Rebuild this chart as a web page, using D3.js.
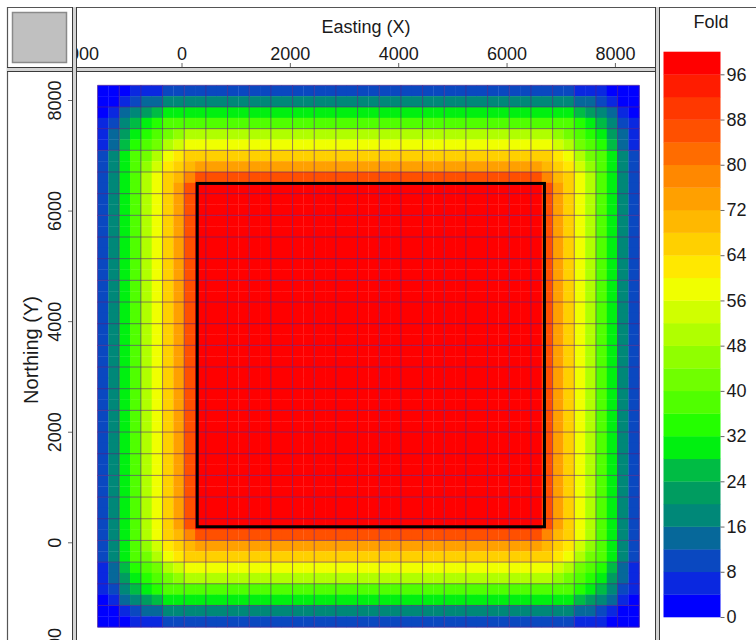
<!DOCTYPE html>
<html>
<head>
<meta charset="utf-8">
<script src="https://cdn.jsdelivr.net/npm/d3@7"></script>
<style>
  html, body { margin: 0; padding: 0; background: #ffffff; }
  svg text { font-family: "Liberation Sans", Arial, sans-serif; fill: #1a1a1a; }
</style>
</head>
<body>
<svg id="chart" width="756" height="640"></svg>
<script>
// Fold coverage per bin, north row first. Each character is a fold class:
// 0-9 then a-o  ->  class k covers fold 4k .. 4k+4  (o = 96-100)
const foldRows = [
  "000111222" + "22222222222222222222222222222222" + "222111000",
  "001233444" + "44444444444444444444444444444444" + "444332100",
  "013456777" + "77777777777777777777777777777777" + "777654310",
  "124678999" + "99999999999999999999999999999999" + "999876421",
  "135789abc" + "cccccccccccccccccccccccccccccccc" + "cba987531",
  "13689acde" + "eeeeeeeeeeeeeeeeeeeeeeeeeeeeeeee" + "edca98631",
  "2479acefg" + "gggggggggggggggggggggggggggggggg" + "gfeca9742",
  "2479bdfgh" + "iiiiiiiiiiiiiiiiiiiiiiiiiiiiiiii" + "hgfdb9742",
  "2479ceghj" + "llllllllllllllllllllllllllllllll" + "jhgec9742",
  "2479cegil" + "oooooooooooooooooooooooooooooooo" + "ligec9742",
  "2479cegil" + "oooooooooooooooooooooooooooooooo" + "ligec9742",
  "2479cegil" + "oooooooooooooooooooooooooooooooo" + "ligec9742",
  "2479cegil" + "oooooooooooooooooooooooooooooooo" + "ligec9742",
  "2479cegil" + "oooooooooooooooooooooooooooooooo" + "ligec9742",
  "2479cegil" + "oooooooooooooooooooooooooooooooo" + "ligec9742",
  "2479cegil" + "oooooooooooooooooooooooooooooooo" + "ligec9742",
  "2479cegil" + "oooooooooooooooooooooooooooooooo" + "ligec9742",
  "2479cegil" + "oooooooooooooooooooooooooooooooo" + "ligec9742",
  "2479cegil" + "oooooooooooooooooooooooooooooooo" + "ligec9742",
  "2479cegil" + "oooooooooooooooooooooooooooooooo" + "ligec9742",
  "2479cegil" + "oooooooooooooooooooooooooooooooo" + "ligec9742",
  "2479cegil" + "oooooooooooooooooooooooooooooooo" + "ligec9742",
  "2479cegil" + "oooooooooooooooooooooooooooooooo" + "ligec9742",
  "2479cegil" + "oooooooooooooooooooooooooooooooo" + "ligec9742",
  "2479cegil" + "oooooooooooooooooooooooooooooooo" + "ligec9742",
  "2479cegil" + "oooooooooooooooooooooooooooooooo" + "ligec9742",
  "2479cegil" + "oooooooooooooooooooooooooooooooo" + "ligec9742",
  "2479cegil" + "oooooooooooooooooooooooooooooooo" + "ligec9742",
  "2479cegil" + "oooooooooooooooooooooooooooooooo" + "ligec9742",
  "2479cegil" + "oooooooooooooooooooooooooooooooo" + "ligec9742",
  "2479cegil" + "oooooooooooooooooooooooooooooooo" + "ligec9742",
  "2479cegil" + "oooooooooooooooooooooooooooooooo" + "ligec9742",
  "2479cegil" + "oooooooooooooooooooooooooooooooo" + "ligec9742",
  "2479cegil" + "oooooooooooooooooooooooooooooooo" + "ligec9742",
  "2479cegil" + "oooooooooooooooooooooooooooooooo" + "ligec9742",
  "2479cegil" + "oooooooooooooooooooooooooooooooo" + "ligec9742",
  "2479cegil" + "oooooooooooooooooooooooooooooooo" + "ligec9742",
  "2479cegil" + "oooooooooooooooooooooooooooooooo" + "ligec9742",
  "2479cegil" + "oooooooooooooooooooooooooooooooo" + "ligec9742",
  "2479cegil" + "oooooooooooooooooooooooooooooooo" + "ligec9742",
  "2479cegil" + "oooooooooooooooooooooooooooooooo" + "ligec9742",
  "2479ceghj" + "llllllllllllllllllllllllllllllll" + "jhgec9742",
  "2479bdfgh" + "iiiiiiiiiiiiiiiiiiiiiiiiiiiiiiii" + "hgfdb9742",
  "2479acefg" + "gggggggggggggggggggggggggggggggg" + "gfeca9742",
  "13689acde" + "eeeeeeeeeeeeeeeeeeeeeeeeeeeeeeee" + "edca98631",
  "135789abc" + "cccccccccccccccccccccccccccccccc" + "cba987531",
  "124678999" + "99999999999999999999999999999999" + "999876421",
  "013456777" + "77777777777777777777777777777777" + "777654310",
  "001233444" + "44444444444444444444444444444444" + "444332100",
  "000111222" + "22222222222222222222222222222222" + "222111000"
];

// Bin layout in survey coordinates (metres)
const xBinStart = -1550, xBinSize = 200;
const yBinStart = -1525, yBinSize = 196;

// Survey outline
const surveyX = [290, 6700];
const surveyY = [290, 6500];

const xTicks = [-2000, 0, 2000, 4000, 6000, 8000];
const yTicks = [-2000, 0, 2000, 4000, 6000, 8000];
const foldTicks = [0, 8, 16, 24, 32, 40, 48, 56, 64, 72, 80, 88, 96];
const foldClassEdges = [0, 4, 8, 12, 16, 20, 24, 28, 32, 36, 40, 44, 48, 52,
                        56, 60, 64, 68, 72, 76, 80, 84, 88, 92, 96, 100];
const foldColors = [
  "#0000ff", "#0a28e0", "#0a48c0", "#06689a", "#008878", "#009c60", "#00bc44",
  "#00f010", "#24ff00", "#50ff00", "#70ff00", "#90ff00", "#b0ff00", "#d0ff00",
  "#f0ff00", "#ffe800", "#ffd000", "#ffb800", "#ffa000", "#ff8800", "#ff6c00",
  "#ff5000", "#ff3800", "#ff1c00", "#ff0000"
];

const svg = d3.select("#chart");

// panel geometry
const plot = { x0: 77, x1: 655, y0: 71, y1: 640 };
const topPanel = { x0: 77, x1: 655, y0: 7, y1: 67 };
const leftPanel = { x0: 7, x1: 72, y0: 71, y1: 640 };

const xs = d3.scaleLinear().domain([0, 8000]).range([181.5, 614.9]);
const ys = d3.scaleLinear().domain([0, 8000]).range([542.8, 100.5]);
const fs = d3.scaleLinear().domain([0, 100]).range([617, 51.7]);
const colorOf = d3.scaleThreshold().domain(foldClassEdges.slice(1, -1)).range(foldColors);

const defs = svg.append("defs");
function clip(id, p) {
  defs.append("clipPath").attr("id", id).append("rect")
    .attr("x", p.x0).attr("y", p.y0).attr("width", p.x1 - p.x0).attr("height", p.y1 - p.y0);
}
clip("clipPlot", plot);
clip("clipTop", topPanel);
clip("clipLeft", leftPanel);

// ---- fold bins ----
const nRows = foldRows.length;
const cells = [];
foldRows.forEach((row, r) => {
  for (let c = 0; c < row.length; c++) {
    const k = parseInt(row[c], 36);
    cells.push({
      x0: xBinStart + c * xBinSize,
      x1: xBinStart + (c + 1) * xBinSize,
      yTop: yBinStart + (nRows - r) * yBinSize,
      yBot: yBinStart + (nRows - 1 - r) * yBinSize,
      fold: foldClassEdges[k] + 2
    });
  }
});

const gPlot = svg.append("g").attr("clip-path", "url(#clipPlot)");
gPlot.append("g").selectAll("rect").data(cells).join("rect")
  .attr("x", d => xs(d.x0))
  .attr("y", d => ys(d.yTop))
  .attr("width", d => xs(d.x1) - xs(d.x0) + 0.3)
  .attr("height", d => ys(d.yBot) - ys(d.yTop) + 0.3)
  .attr("fill", d => colorOf(d.fold));

// bin grid lines every second bin
const nCols = foldRows[0].length;
const gxVals = d3.range(0, nCols + 1, 2).map(i => xBinStart + i * xBinSize);
const gyVals = d3.range(0, nRows + 1, 2).map(i => yBinStart + i * yBinSize);
const gridTop = yBinStart + nRows * yBinSize, gridBot = yBinStart;
const gridL = xBinStart, gridR = xBinStart + nCols * xBinSize;
const gGrid = gPlot.append("g").attr("stroke", "#5a2080").attr("stroke-opacity", 0.6).attr("stroke-width", 1);
gGrid.selectAll("line.v").data(gxVals).join("line").attr("class", "v")
  .attr("x1", d => xs(d)).attr("x2", d => xs(d))
  .attr("y1", ys(gridTop)).attr("y2", ys(gridBot));
gGrid.selectAll("line.h").data(gyVals).join("line").attr("class", "h")
  .attr("y1", d => ys(d)).attr("y2", d => ys(d))
  .attr("x1", xs(gridL)).attr("x2", xs(gridR));

// survey outline
gPlot.append("rect")
  .attr("x", xs(surveyX[0])).attr("y", ys(surveyY[1]))
  .attr("width", xs(surveyX[1]) - xs(surveyX[0]))
  .attr("height", ys(surveyY[0]) - ys(surveyY[1]))
  .attr("fill", "none").attr("stroke", "#000").attr("stroke-width", 3);

// ---- top axis (Easting) ----
const gTop = svg.append("g").attr("clip-path", "url(#clipTop)");
const gTopAxis = gTop.append("g").attr("transform", `translate(0,${topPanel.y1})`)
  .call(d3.axisTop(xs).tickValues(xTicks).tickSize(4).tickPadding(3).tickFormat(d3.format("d")));
gTopAxis.select(".domain").remove();
gTopAxis.selectAll("line").attr("stroke", "#666");
gTopAxis.selectAll("text").style("font-size", "18px").attr("fill", "#1a1a1a");
gTop.append("text").attr("x", (topPanel.x0 + topPanel.x1) / 2).attr("y", 33)
  .attr("text-anchor", "middle").style("font-size", "18px").text("Easting (X)");

// ---- left axis (Northing) ----
const gLeft = svg.append("g").attr("clip-path", "url(#clipLeft)");
gLeft.selectAll("line.tick").data(yTicks).join("line").attr("class", "tick")
  .attr("x1", leftPanel.x1 - 4).attr("x2", leftPanel.x1)
  .attr("y1", d => ys(d)).attr("y2", d => ys(d)).attr("stroke", "#666");
gLeft.selectAll("text.tl").data(yTicks).join("text").attr("class", "tl")
  .attr("transform", d => `translate(55,${ys(d)}) rotate(-90)`)
  .attr("text-anchor", "middle").attr("dy", "0.35em")
  .style("font-size", "18px").text(d => d3.format("d")(d));
gLeft.append("text")
  .attr("transform", `translate(31,350) rotate(-90)`)
  .attr("text-anchor", "middle").attr("dy", "0.35em")
  .style("font-size", "20px").text("Northing (Y)");

// ---- colour bar ----
const barX0 = 663.5, barX1 = 720.5;
const classes = d3.range(foldColors.length).map(i => ({ lo: foldClassEdges[i], hi: foldClassEdges[i + 1] }));
svg.append("g").selectAll("rect").data(classes).join("rect")
  .attr("x", barX0).attr("width", barX1 - barX0)
  .attr("y", d => fs(d.hi)).attr("height", d => fs(d.lo) - fs(d.hi) + 0.3)
  .attr("fill", d => colorOf(d.lo + 2));
const gBar = svg.append("g").attr("transform", `translate(${barX1},0)`)
  .call(d3.axisRight(fs).tickValues(foldTicks).tickSize(4).tickPadding(2));
gBar.select(".domain").remove();
gBar.selectAll("line").attr("stroke", "#666");
gBar.selectAll("text").style("font-size", "18px").attr("fill", "#1a1a1a");
svg.append("text").attr("x", 711).attr("y", 28).attr("text-anchor", "middle")
  .style("font-size", "18px").text("Fold");

// ---- frame: outer border and doubled separators ----
const frame = svg.append("g");
frame.append("line").attr("x1", 7).attr("x2", 756).attr("y1", 7.5).attr("y2", 7.5)
  .attr("stroke", "#555").attr("stroke-width", 1.2);
frame.append("line").attr("x1", 7.5).attr("x2", 7.5).attr("y1", 7).attr("y2", 640)
  .attr("stroke", "#555").attr("stroke-width", 1.2);
function doubleV(x, y0, y1) {
  frame.append("rect").attr("x", x).attr("y", y0).attr("width", 4).attr("height", y1 - y0).attr("fill", "#d4d4d4");
  [x + 0.5, x + 4.5].forEach(xx => frame.append("line").attr("x1", xx).attr("x2", xx)
    .attr("y1", y0).attr("y2", y1).attr("stroke", "#3a3a3a").attr("stroke-width", 1));
}
function doubleH(y, x0, x1) {
  frame.append("rect").attr("x", x0).attr("y", y).attr("width", x1 - x0).attr("height", 4).attr("fill", "#d4d4d4");
  [y + 0.5, y + 4.5].forEach(yy => frame.append("line").attr("x1", x0).attr("x2", x1)
    .attr("y1", yy).attr("y2", yy).attr("stroke", "#3a3a3a").attr("stroke-width", 1));
}
doubleH(67, 7, 660);
doubleV(72, 7, 640);
doubleV(655, 7, 640);

// corner swatch
svg.append("rect").attr("x", 12.5).attr("y", 12.5).attr("width", 54).attr("height", 50)
  .attr("fill", "#c0c0c0").attr("stroke", "#8a8a8a").attr("stroke-width", 1.5);
</script>
</body>
</html>
